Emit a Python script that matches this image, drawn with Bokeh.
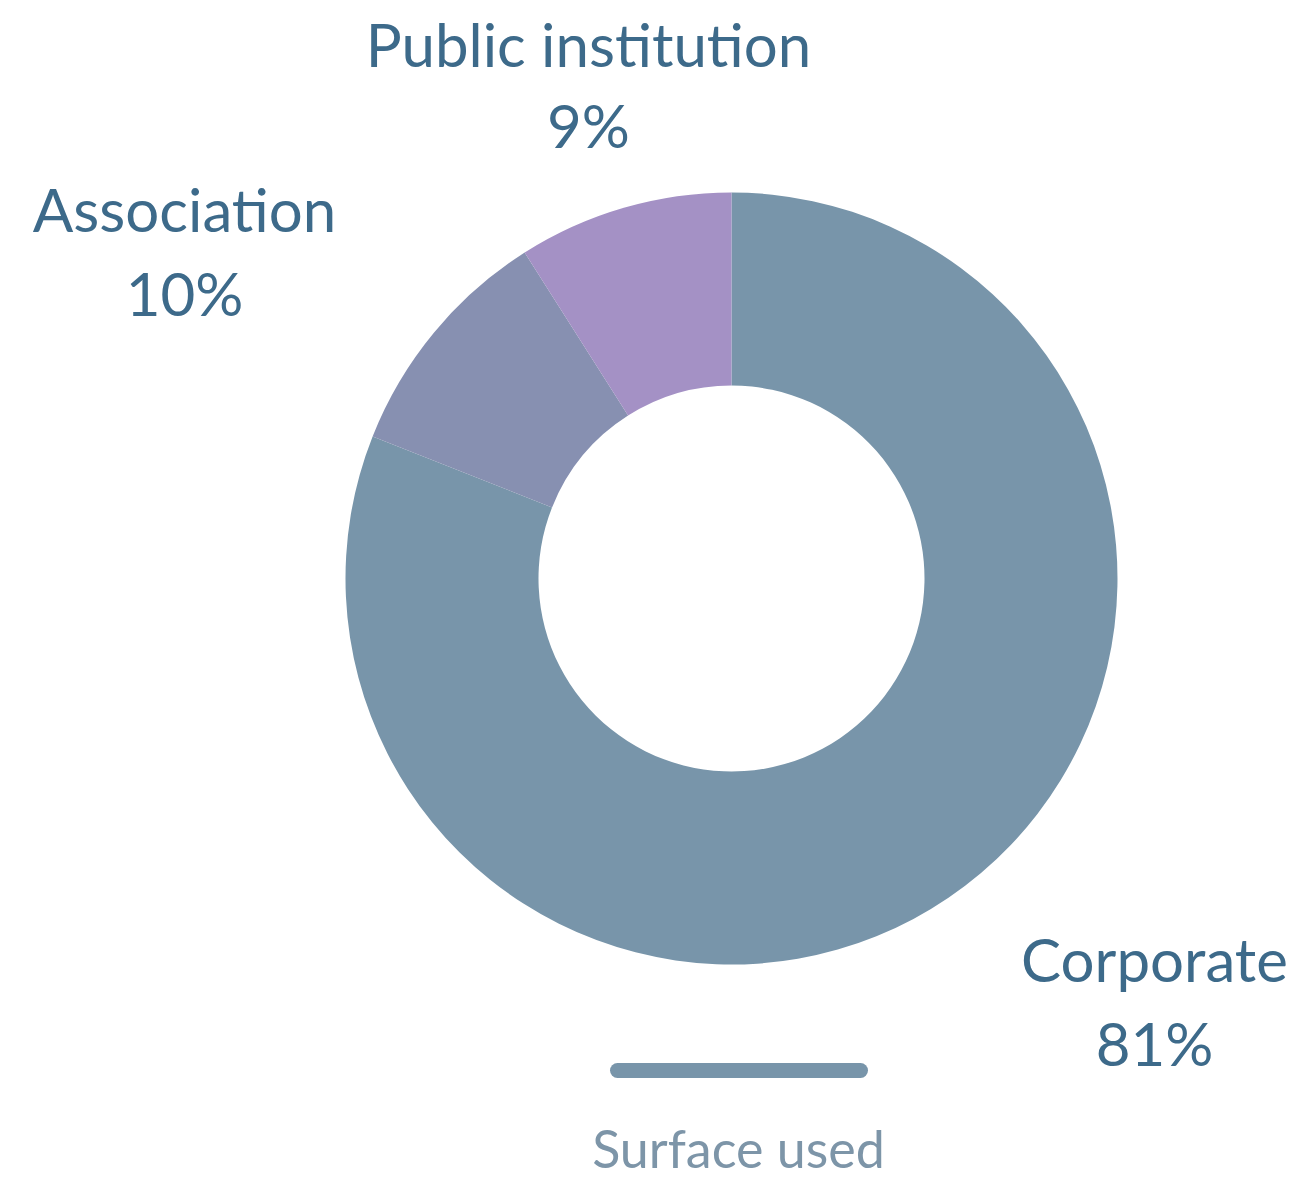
import numpy as np
from bokeh.plotting import figure
from bokeh.models import Range1d, ColumnDataSource
from bokeh.core.properties import value
from bokeh.embed import file_html
from bokeh.resources import INLINE

# ---- data ----
categories = ["Corporate", "Association", "Public institution"]
shares = [81, 10, 9]
colors = ["#7895aa", "#8790b1", "#a491c5"]
pct_labels = ["81%", "10%", "9%"]
legend_label = "Surface used"

# ---- layout (pixels, y measured from top) ----
PW, PH = 1292, 1171
def Y(py):
    return PH - py

cx, cy = 731, Y(578)
r_in, r_out = 193, 386
FS = 60
base_fix = 24          # bokeh svg baseline correction
label_x = [1154, 184, 588]
label_name_y = [982, 232, 67]
label_pct_y = [1066, 316, 148]

p = figure(width=PW, height=PH, output_backend="svg", toolbar_location=None,
           x_range=Range1d(0, PW), y_range=Range1d(0, PH),
           min_border=0)
p.axis.visible = False
p.grid.visible = False
p.outline_line_color = None
p.background_fill_color = "white"
p.border_fill_color = "white"

# wedges: start at top, clockwise
fr = np.array(shares, dtype=float) / sum(shares)
cum = np.concatenate([[0], np.cumsum(fr)])
start = [np.pi / 2 - cum[i + 1] * 2 * np.pi for i in range(len(shares))]
end = [np.pi / 2 - cum[i] * 2 * np.pi for i in range(len(shares))]
src = ColumnDataSource(dict(start=start, end=end, color=colors, cat=categories))
p.annular_wedge(x=cx, y=cy, inner_radius=r_in, outer_radius=r_out,
                start_angle="start", end_angle="end", fill_color="color",
                line_color=None, direction="anticlock", source=src)

tsrc = ColumnDataSource(dict(x=label_x,
                             yn=[Y(v - base_fix) for v in label_name_y],
                             yp=[Y(v - base_fix) for v in label_pct_y],
                             name=categories, pct=pct_labels))
for col, ycol in (("name", "yn"), ("pct", "yp")):
    p.text(x="x", y=ycol, text=col, source=tsrc, text_font=value("Lato"),
           text_font_size=f"{FS}px", text_color="#3d6a8a", text_align="center",
           text_baseline="alphabetic")

# legend
p.line(x=[617, 860], y=[Y(1070), Y(1070)], line_width=15, line_cap="round",
       line_color=colors[0])
p.text(x=[738], y=[Y(1168 - 21)], text=[legend_label], text_font=value("Lato"),
       text_font_size="52px", text_color="#7d95a8", text_align="center",
       text_baseline="alphabetic")

open("out.html", "w").write(file_html(p, INLINE))
